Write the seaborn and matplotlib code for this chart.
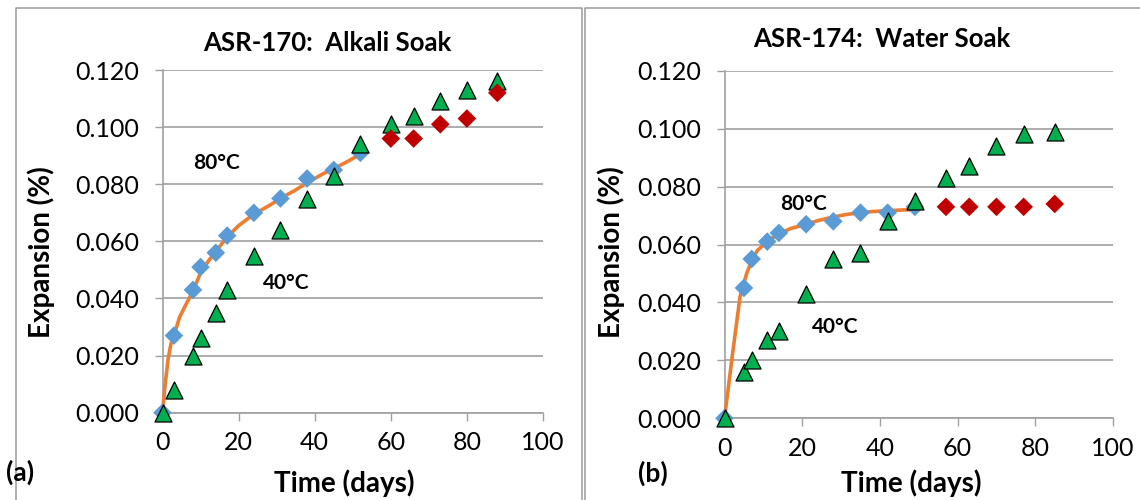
import matplotlib
matplotlib.use("Agg")
import matplotlib.pyplot as plt
from matplotlib.lines import Line2D
from matplotlib.ticker import FormatStrFormatter
import seaborn as sns

# ---------------- data ----------------
# ASR-170, alkali soak
a_t80 = [0, 3, 8, 10, 14, 17, 24, 31, 38, 45, 52]
a_y80 = [0.000, 0.027, 0.043, 0.051, 0.056, 0.062, 0.070, 0.075, 0.082, 0.085, 0.091]
a_t80_late = [60, 66, 73, 80, 88]
a_y80_late = [0.096, 0.096, 0.101, 0.103, 0.112]
a_t40 = [0, 3, 8, 10, 14, 17, 24, 31, 38, 45, 52, 60, 66, 73, 80, 88]
a_y40 = [0.000, 0.008, 0.020, 0.026, 0.035, 0.043, 0.055, 0.064, 0.075, 0.083,
         0.094, 0.101, 0.104, 0.109, 0.113, 0.116]
a_fit_t = [0, 0.7, 1.5, 2.2, 3, 4.5, 6.2, 8, 10, 12, 14, 17, 20, 24, 28, 31,
           35, 38, 42, 45, 48, 52]
a_fit_y = [0.000, 0.010, 0.019, 0.024, 0.027, 0.0335, 0.038, 0.0425, 0.049,
           0.053, 0.0565, 0.0615, 0.0655, 0.0695, 0.0725, 0.075, 0.078, 0.0805,
           0.0835, 0.0855, 0.0875, 0.0905]

# ASR-174, water soak
b_t80 = [0, 5, 7, 11, 14, 21, 28, 35, 42, 49]
b_y80 = [0.000, 0.045, 0.055, 0.061, 0.064, 0.067, 0.068, 0.071, 0.071, 0.073]
b_t80_late = [57, 63, 70, 77, 85]
b_y80_late = [0.073, 0.073, 0.073, 0.073, 0.074]
b_t40 = [0, 5, 7, 11, 14, 21, 28, 35, 42, 49, 57, 63, 70, 77, 85]
b_y40 = [0.000, 0.016, 0.020, 0.027, 0.030, 0.043, 0.055, 0.057, 0.068, 0.075,
         0.083, 0.087, 0.094, 0.098, 0.099]
b_fit_t = [0, 2, 4, 5, 5.7, 7, 8.5, 11, 14, 17, 21, 24.5, 28, 31.5, 35, 38.5,
           42, 45.5, 49]
b_fit_y = [0.000, 0.0215, 0.042, 0.0465, 0.050, 0.0545, 0.058, 0.061, 0.0637,
           0.0655, 0.067, 0.0684, 0.0695, 0.0704, 0.0710, 0.0714, 0.0717,
           0.0719, 0.0721]

titles = ["ASR-170:  Alkali Soak", "ASR-174:  Water Soak"]
panel_tags = ["(a)", "(b)"]
y_ticks = [0.000, 0.020, 0.040, 0.060, 0.080, 0.100, 0.120]
x_ticks = [0, 20, 40, 60, 80, 100]

# ---------------- style ----------------
sns.set_theme(style="white")
plt.rcParams["font.family"] = ["Lato", "DejaVu Sans"]
plt.rcParams["text.color"] = "black"
plt.rcParams["axes.labelcolor"] = "black"

BLUE = "#5B9BD5"
RED = "#C00000"
GREEN = "#00B050"
ORANGE = "#ED7D31"
GRID = "#a0a0a0"
FRAME = "#9a9a9a"

W, H = 1140, 500
fig = plt.figure(figsize=(W / 100, H / 100), dpi=100)


def fx(px):
    return px / W


def fy(py):
    return 1 - py / H


# chart-area frames
for xs, ys in [
    ([16, 16, 581.5, 581.5], [H + 5, 8, 8, H + 5]),
    ([584.5, 584.5, W + 5], [H + 5, 8, 8]),
]:
    fig.add_artist(Line2D([fx(v) for v in xs], [fy(v) for v in ys],
                          color=FRAME, lw=1.1, transform=fig.transFigure))

axes_px = [(162.5, 543, 70, 412.7), (724.5, 1113, 70.7, 418.3)]
panels = [
    (a_t80, a_y80, a_t80_late, a_y80_late, a_t40, a_y40, a_fit_t, a_fit_y),
    (b_t80, b_y80, b_t80_late, b_y80_late, b_t40, b_y40, b_fit_t, b_fit_y),
]
label_pos = [
    {"80": (14.3, 0.0874), "40": (32.5, 0.0454)},
    {"80": (20.3, 0.0740), "40": (28.4, 0.0315)},
]
title_px = [(327, 43), (881.5, 39)]
ylabel_px = [(41, 252), (611, 252)]
xlabel_px = [(344.5, 483), (911.5, 483)]
tag_px = [(20, 472), (653, 473)]

for i, (l, r, t, b) in enumerate(axes_px):
    ax = fig.add_axes([fx(l), fy(b), fx(r - l), (b - t) / H])
    t80, y80, t80l, y80l, t40, y40, ft, fyv = panels[i]

    sns.lineplot(x=ft, y=fyv, ax=ax, color=ORANGE, lw=2.6, sort=False,
                 estimator=None, zorder=3, clip_on=False)
    sns.scatterplot(x=t80, y=y80, ax=ax, marker="D", s=90, color=BLUE,
                    edgecolor="none", linewidth=0, zorder=4, clip_on=False)
    sns.scatterplot(x=t40, y=y40, ax=ax, marker="^", s=150, color=GREEN,
                    edgecolor="black", linewidth=0.9, zorder=5, clip_on=False)
    sns.scatterplot(x=t80l, y=y80l, ax=ax, marker="D", s=90, color=RED,
                    edgecolor="none", linewidth=0, zorder=6, clip_on=False)

    ax.set_xlim(0, 100)
    ax.set_ylim(0, 0.12)
    ax.set_xticks(x_ticks)
    ax.set_yticks(y_ticks)
    ax.yaxis.set_major_formatter(FormatStrFormatter("%.3f"))
    ax.set_xlabel("")
    ax.set_ylabel("")

    ax.grid(axis="y", color=GRID, lw=1.2)
    ax.set_axisbelow(True)
    for side in ("top", "right"):
        ax.spines[side].set_visible(False)
    for side in ("left", "bottom"):
        ax.spines[side].set_color(GRID)
        ax.spines[side].set_linewidth(1.2)
    ax.tick_params(axis="both", which="major", direction="out", length=5.5,
                   width=1.0, color=GRID, labelsize=18, labelcolor="black")
    ax.tick_params(axis="y", pad=11, left=True)
    ax.tick_params(axis="x", pad=8, bottom=True)
    ax.set_facecolor("none")

    for key, (xv, yv) in label_pos[i].items():
        ax.text(xv, yv, f"{key}°C", fontsize=15, fontweight="bold",
                ha="center", va="center", color="black")

    fig.text(fx(title_px[i][0]), fy(title_px[i][1]), titles[i], fontsize=18.5,
             fontweight="bold", ha="center", va="center", color="black")
    fig.text(fx(ylabel_px[i][0]), fy(ylabel_px[i][1]), "Expansion (%)",
             fontsize=20, fontweight="bold", rotation=90, ha="center",
             va="center", color="black")
    fig.text(fx(xlabel_px[i][0]), fy(xlabel_px[i][1]), "Time (days)",
             fontsize=20, fontweight="bold", ha="center", va="center",
             color="black")
    fig.text(fx(tag_px[i][0]), fy(tag_px[i][1]), panel_tags[i], fontsize=19,
             fontweight="bold", ha="center", va="center", color="black")

fig.savefig("out.png", dpi=100, facecolor="white")
